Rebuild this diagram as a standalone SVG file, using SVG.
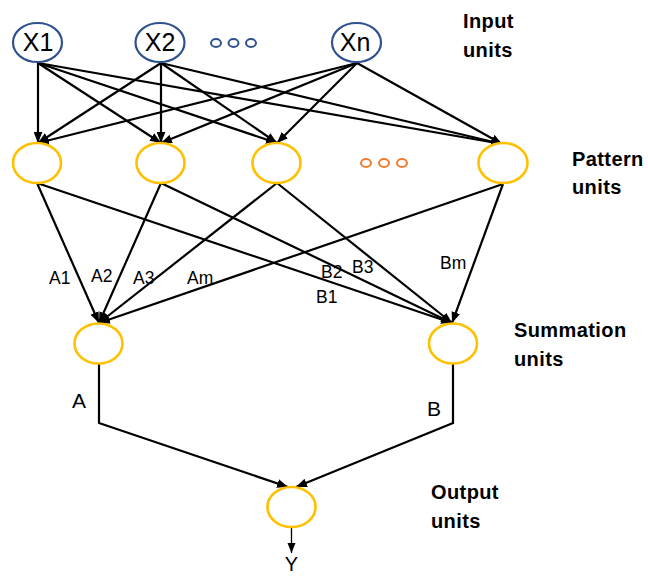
<svg xmlns="http://www.w3.org/2000/svg" width="648" height="576" viewBox="0 0 648 576">
<style>
.in{fill:#fff;stroke:#2F528F;stroke-width:2.2}
.nd{fill:#fff;stroke:#FFC000;stroke-width:2.6}
.dotb{fill:none;stroke:#2F528F;stroke-width:2}
.doto{fill:none;stroke:#ED7D31;stroke-width:2}
.e{fill:none;stroke:#000;stroke-width:2.2;marker-end:url(#ah)}
.nl{font-family:"Liberation Sans",Arial,sans-serif;font-size:25px;fill:#000;text-anchor:middle}
.lb{font-family:"Liberation Sans",Arial,sans-serif;font-size:17.5px;fill:#000}
.hd{font-family:"Liberation Sans",Arial,sans-serif;font-size:20px;font-weight:bold;fill:#000;letter-spacing:0.4px}
</style>
<defs>
<marker id="ah" viewBox="0 0 10 8" refX="10" refY="4" markerWidth="11" markerHeight="9" markerUnits="userSpaceOnUse" orient="auto">
<path d="M0,0 L10,4 L0,8 z" fill="#000"/>
</marker>
<marker id="ahs" viewBox="0 0 10 8" refX="10" refY="4" markerWidth="10" markerHeight="9" markerUnits="userSpaceOnUse" orient="auto">
<path d="M0,0 L10,4 L0,8 z" fill="#000"/>
</marker>
</defs>
<g id="connectors">
<path class="e" d="M38,63 L38,143"/>
<path class="e" d="M38,63 L161,143"/>
<path class="e" d="M38,63 L277,143"/>
<path class="e" d="M38,63 L502,144"/>
<path class="e" d="M161,63 L38,143"/>
<path class="e" d="M161,63 L161,143"/>
<path class="e" d="M161,63 L277,143"/>
<path class="e" d="M161,63 L502,144"/>
<path class="e" d="M357,63 L38,143"/>
<path class="e" d="M357,63 L161,143"/>
<path class="e" d="M357,63 L277,143"/>
<path class="e" d="M357,63 L502,144"/>
<path class="e" d="M37,183 L99,323"/>
<path class="e" d="M37,183 L452,323"/>
<path class="e" d="M161,183 L99,323"/>
<path class="e" d="M161,183 L452,323"/>
<path class="e" d="M277,183 L99,323"/>
<path class="e" d="M277,183 L452,323"/>
<path class="e" d="M503,184 L99,323"/>
<path class="e" d="M503,184 L452,323"/>
<path class="e" d="M99,364 V423 L288,487"/>
<path class="e" d="M453,364 V423 L296,487"/>
<path d="M291.5,527 V553" fill="none" stroke="#000" stroke-width="1.3" marker-end="url(#ahs)"/>
</g>
<g id="labels">
<text class="lb" x="49" y="284">A1</text>
<text class="lb" x="91" y="282">A2</text>
<text class="lb" x="133" y="284">A3</text>
<text class="lb" x="187" y="284">Am</text>
<text class="lb" x="321" y="278">B2</text>
<text class="lb" x="352" y="273">B3</text>
<text class="lb" x="316" y="303">B1</text>
<text class="lb" x="440" y="269">Bm</text>
<text class="lb" x="72" y="408" style="font-size:21px">A</text>
<text class="lb" x="427" y="416" style="font-size:21px">B</text>
<text class="nl" x="291.5" y="571" style="font-size:20px">Y</text>
</g>
<g id="x1"><ellipse class="in" cx="37.5" cy="42.5" rx="24.5" ry="19.5"/><text class="nl" x="38" y="51">X1</text></g>
<g id="x2"><ellipse class="in" cx="160" cy="42.5" rx="24.5" ry="19.5"/><text class="nl" x="160" y="51">X2</text></g>
<g id="xdots"><ellipse class="dotb" cx="216" cy="43" rx="5" ry="4"/><ellipse class="dotb" cx="233.5" cy="43" rx="5" ry="4"/><ellipse class="dotb" cx="251" cy="43" rx="5" ry="4"/></g>
<g id="xn"><ellipse class="in" cx="356.5" cy="42.5" rx="24.5" ry="19.5"/><text class="nl" x="355" y="51">Xn</text></g>
<g id="p1"><ellipse class="nd" cx="37" cy="163" rx="24" ry="20"/></g>
<g id="p2"><ellipse class="nd" cx="160.5" cy="163" rx="24" ry="20"/></g>
<g id="p3"><ellipse class="nd" cx="276.5" cy="163" rx="24" ry="20"/></g>
<g id="pdots"><ellipse class="doto" cx="366" cy="163" rx="5" ry="4"/><ellipse class="doto" cx="384" cy="163" rx="5" ry="4"/><ellipse class="doto" cx="402" cy="163" rx="5" ry="4"/></g>
<g id="p4"><ellipse class="nd" cx="503" cy="163" rx="24.5" ry="20"/></g>
<g id="sa"><ellipse class="nd" cx="98.5" cy="343.5" rx="24" ry="20"/></g>
<g id="sb"><ellipse class="nd" cx="453" cy="343.5" rx="24" ry="20"/></g>
<g id="out"><ellipse class="nd" cx="291.5" cy="507" rx="24" ry="20"/></g>
<g id="headings">
<text class="hd" x="463" y="28">Input</text>
<text class="hd" x="463" y="57">units</text>
<text class="hd" x="572" y="166">Pattern</text>
<text class="hd" x="572" y="194">units</text>
<text class="hd" x="514" y="337">Summation</text>
<text class="hd" x="514" y="366">units</text>
<text class="hd" x="431" y="499">Output</text>
<text class="hd" x="431" y="528">units</text>
</g>
</svg>
